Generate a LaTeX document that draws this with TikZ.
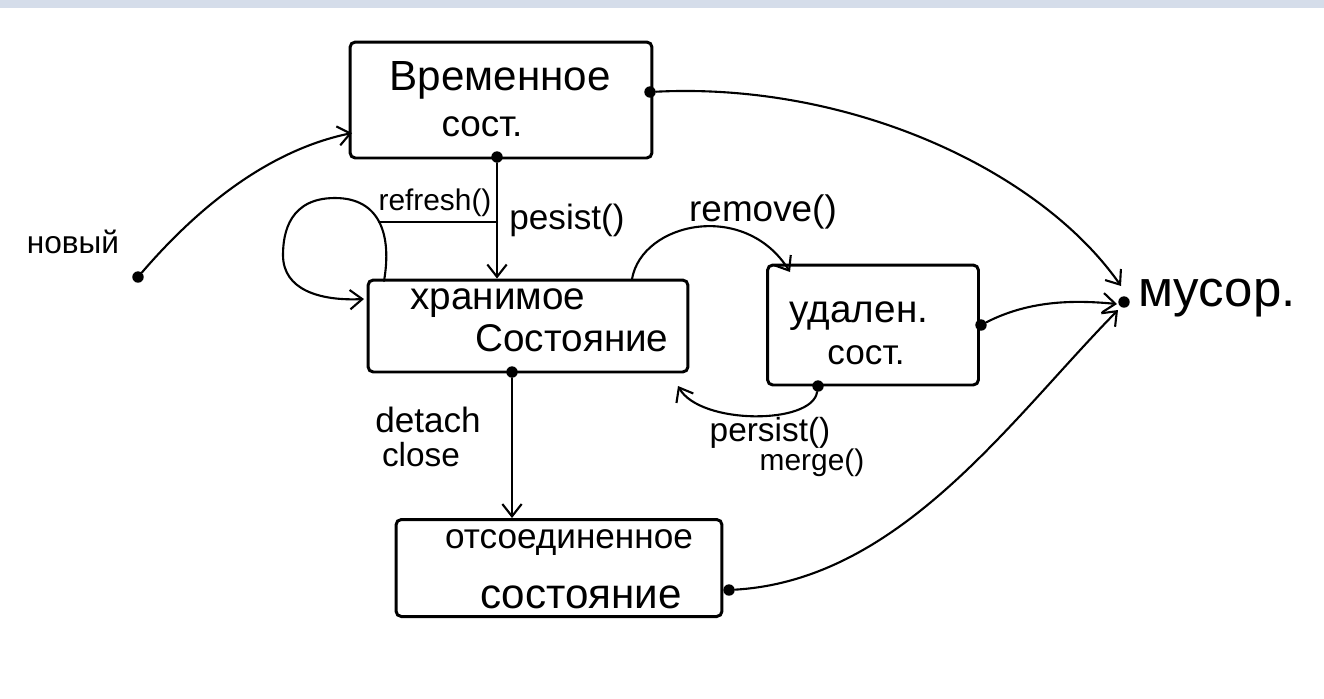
\documentclass[tikz,border=0pt]{standalone}
\usepackage{fontspec}
\setmainfont{Liberation Sans}
\usetikzlibrary{arrows.meta}
\definecolor{bandc}{HTML}{D5DDEA}
\begin{document}
\begin{tikzpicture}[x=0.02cm,y=-0.02cm,
  box/.style={draw,line width=1.7pt,rounded corners=3pt,inner sep=0pt},
  dotn/.style={circle,fill,inner sep=0pt,minimum size=6.5pt},
  txt/.style={inner sep=0pt,anchor=center},
  ln/.style={line width=1.2pt,line cap=round},
  arr/.style={ln,-{Straight Barb[length=7pt,width=11pt,line width=1.2pt]}},
  fs/.style={font=\fontsize{#1}{#1}\selectfont}]
\path[use as bounding box] (0,0) rectangle (1324,698);
\fill[bandc] (0,0) rectangle (1324,8);

% boxes
\node[box,minimum width=6.04cm,minimum height=2.32cm] (tmp) at (501,100) {};
\node[box,minimum width=6.4cm,minimum height=1.84cm] (man) at (528,326) {};
\node[box,minimum width=4.22cm,minimum height=2.4cm] (rem) at (873,325) {};
\node[box,minimum width=6.52cm,minimum height=1.94cm] (det) at (559,568) {};

% texts
\node[txt,fs=24] (t1) at (500,80) {Временное};
\node[txt,fs=21] (t2) at (482,127) {сост.};
\node[txt,fs=22] (m1) at (498,303) {хранимое};
\node[txt,fs=22] (m2) at (572,338) {Состояние};
\node[txt,fs=22] (r1) at (859,316) {удален.};
\node[txt,fs=20] (r2) at (866,355) {сост.};
\node[txt,fs=20] (d1) at (569,543) {отсоединенное};
\node[txt,fs=24] (d2) at (581,597) {состояние};
\node[txt,fs=18] (newt) at (73,242) {новый};
\node[txt,fs=29,anchor=west] (gbt) at (1138,298) {мусор.};
\node[txt,fs=17] (lref) at (435,203) {refresh()};
\node[txt,fs=20] (lpers) at (567,220) {pesist()};
\node[txt,fs=21] (lrem) at (763,212) {remove()};
\node[txt,fs=19] (lpm1) at (770,433) {persist()};
\node[txt,fs=17] (lpm2) at (812,463) {merge()};
\node[txt,fs=20] (ldet) at (428,420) {detach};
\node[txt,fs=19] (lclose) at (421,455) {close};

% dots
\node[dotn] (newd) at (138,277) {};
\node[dotn] (gbd) at (1124,302) {};
\node[dotn] (tmpR) at (650,92) {};
\node[dotn] (tmpB) at (497,157) {};
\node[dotn] (manB) at (512,372) {};
\node[dotn] (remR) at (981,325) {};
\node[dotn] (remB) at (818,386) {};
\node[dotn] (detR) at (729,590) {};

% anchor points
\coordinate (tmpIn) at (352,133);
\coordinate (manTop) at (tmpB |- man.north);
\coordinate (loopS) at (384,281);
\coordinate (loopE) at (364,299);
\coordinate (refA) at (379,222);
\coordinate (refB) at (tmpB |- refA);
\coordinate (remS) at (632,279);
\coordinate (remIn) at (790,272);
\coordinate (manBR) at (678,386);
\coordinate (detTop) at (manB |- det.north);
\coordinate (gbIn1) at (1121,286);
\coordinate (gbIn2) at (1117,304);
\coordinate (gbIn3) at (1118,310);

% connectors
\draw[arr] (newd) .. controls (200,205) and (270,150) .. (tmpIn);
\draw[arr] (tmpB) -- (manTop);
\draw[ln] (refA) -- (refB);
\draw[arr] (loopS) .. controls (392,235) and (380,198) .. (335,198)
  .. controls (290,198) and (283,232) .. (283,255)
  .. controls (283,290) and (320,301) .. (loopE);
\draw[arr] (remS) .. controls (642,222) and (745,200) .. (remIn);
\draw[arr] (remB) .. controls (812,425) and (700,425) .. (manBR);
\draw[arr] (manB) -- (detTop);
\draw[arr] (tmpR) .. controls (850,82) and (1040,170) .. (gbIn1);
\draw[arr] (remR) .. controls (1030,300) and (1075,300) .. (gbIn2);
\draw[arr] (detR) .. controls (900,580) and (1010,420) .. (gbIn3);
\end{tikzpicture}
\end{document}
